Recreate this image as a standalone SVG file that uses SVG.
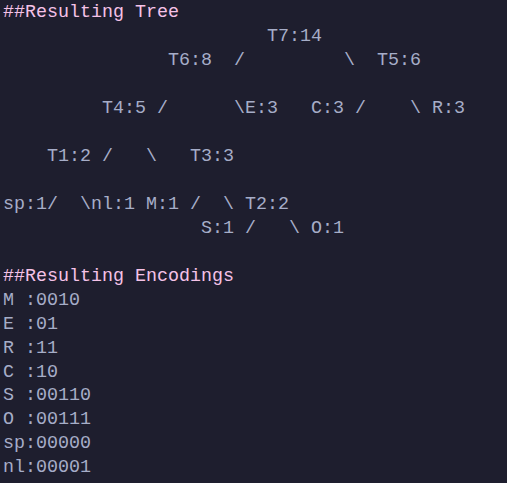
<svg xmlns="http://www.w3.org/2000/svg" width="507" height="483" viewBox="0 0 507 483">
<style>
text{font-family:"Liberation Mono","DejaVu Sans Mono",monospace;font-size:18.33px;white-space:pre}
.h{fill:#f5c2e7}
.t{fill:#a6adc8}
</style>
<rect width="507" height="483" fill="#1e1e2e"/>
<text class="h" x="3" y="17">##Resulting Tree</text>
<g id="T7"><text class="t" x="267" y="41">T7:14</text></g>
<g id="T6"><text class="t" x="168" y="65">T6:8</text></g>
<g id="T5"><text class="t" x="377" y="65">T5:6</text></g>
<g id="T4"><text class="t" x="102" y="113">T4:5</text></g>
<g id="E"><text class="t" x="245" y="113">E:3</text></g>
<g id="C"><text class="t" x="311" y="113">C:3</text></g>
<g id="R"><text class="t" x="432" y="113">R:3</text></g>
<g id="T1"><text class="t" x="47" y="161">T1:2</text></g>
<g id="T3"><text class="t" x="190" y="161">T3:3</text></g>
<g id="sp"><text class="t" x="3" y="209">sp:1</text></g>
<g id="nl"><text class="t" x="91" y="209">nl:1</text></g>
<g id="M"><text class="t" x="146" y="209">M:1</text></g>
<g id="T2"><text class="t" x="245" y="209">T2:2</text></g>
<g id="S"><text class="t" x="201" y="233">S:1</text></g>
<g id="O"><text class="t" x="311" y="233">O:1</text></g>
<g id="connectors" class="t">
<text class="t" x="234" y="65">/</text>
<text class="t" x="344" y="65">\</text>
<text class="t" x="157" y="113">/</text>
<text class="t" x="234" y="113">\</text>
<text class="t" x="355" y="113">/</text>
<text class="t" x="410" y="113">\</text>
<text class="t" x="102" y="161">/</text>
<text class="t" x="146" y="161">\</text>
<text class="t" x="47" y="209">/</text>
<text class="t" x="80" y="209">\</text>
<text class="t" x="190" y="209">/</text>
<text class="t" x="223" y="209">\</text>
<text class="t" x="245" y="233">/</text>
<text class="t" x="289" y="233">\</text>
</g>
<text class="h" x="3" y="281">##Resulting Encodings</text>
<g id="encodings">
<text class="t" x="3" y="305">M :0010</text>
<text class="t" x="3" y="329">E :01</text>
<text class="t" x="3" y="353">R :11</text>
<text class="t" x="3" y="377">C :10</text>
<text class="t" x="3" y="400">S :00110</text>
<text class="t" x="3" y="424">O :00111</text>
<text class="t" x="3" y="448">sp:00000</text>
<text class="t" x="3" y="472">nl:00001</text>
</g>
</svg>
